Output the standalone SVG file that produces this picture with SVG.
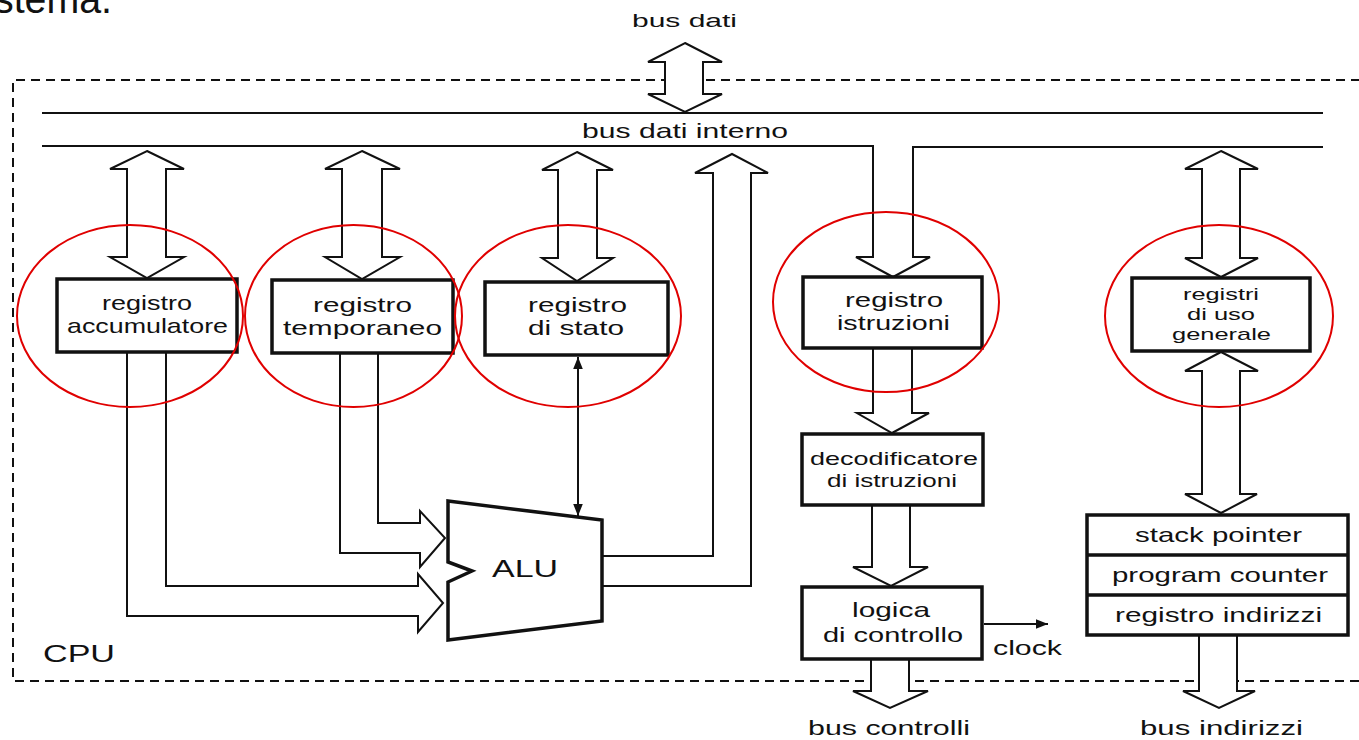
<svg xmlns="http://www.w3.org/2000/svg" width="1359" height="740" viewBox="0 0 1359 740">
<defs>
<style>
text{font-family:"Liberation Sans",Arial,sans-serif;fill:#111;}
.box{fill:#fff;stroke:#111;stroke-width:3.5;}
.arr{fill:#fff;stroke:#111;stroke-width:2;stroke-linejoin:miter;}
.ln{fill:none;stroke:#111;stroke-width:2;}
.cpu{fill:none;stroke:#111;stroke-width:2;stroke-dasharray:9 6;}
.ring{fill:none;stroke:#e00000;stroke-width:2;}
.lb{font-size:21px;}
</style>
<marker id="ah2" viewBox="0 0 10 10" refX="10" refY="5" markerWidth="12" markerHeight="12" markerUnits="userSpaceOnUse" orient="auto-start-reverse">
<path d="M0,1 L10,5 L0,9 Z" fill="#111"/>
</marker>
</defs>
<rect width="1359" height="740" fill="#fff"/>
<text x="-6" y="13" font-size="40" textLength="118" lengthAdjust="spacingAndGlyphs">stema.</text>

<g id="cpu">
<path class="cpu" d="M1375,80 L13,80 L13,681 L1375,681"/>
<text x="43" y="662" font-size="24" textLength="72" lengthAdjust="spacingAndGlyphs">CPU</text>
</g>

<g id="connectors">
<path class="ln" d="M42,113 L1323,113"/>
<path class="arr" d="M42,146 L873,146 L873,257 L856,257 L893,277 L930,257 L913,257 L913,147 L1323,147" fill="none"/>
<path class="arr" d="M685,43 L722,62 L703,62 L703,94 L722,94 L685,112 L648,94 L665,94 L665,62 L648,62 Z"/>
<path class="arr" d="M147,151 L184,169 L166,169 L166,257 L184,257 L147,278 L110,257 L127,257 L127,169 L110,169 Z"/>
<path class="arr" d="M362,151 L400,169 L382,169 L382,257 L400,257 L362,279 L325,257 L342,257 L342,169 L325,169 Z"/>
<path class="arr" d="M577,152 L613,170 L597,170 L597,258 L613,258 L577,281 L542,258 L558,258 L558,170 L542,170 Z"/>
<path class="arr" d="M1221,151 L1258,169 L1240,169 L1240,258 L1258,258 L1221,277 L1185,258 L1202,258 L1202,169 L1185,169 Z"/>
<path class="arr" d="M603,556 L713,556 L713,173 L695,173 L732,154 L768,173 L751,173 L751,586 L603,586"/>
<path class="arr" d="M378,353 L378,523 L420,523 L420,511 L445,538 L420,567 L420,553 L340,553 L340,353"/>
<path class="arr" d="M166,352 L166,586 L418,586 L418,574 L443,603 L418,632 L418,616 L127,616 L127,352"/>
<path class="ln" d="M578,357 L578,516" marker-start="url(#ah2)" marker-end="url(#ah2)"/>
<path class="arr" d="M873,349 L873,413 L857,413 L892,433 L929,413 L912,413 L912,349"/>
<path class="arr" d="M872,506 L872,567 L853,567 L891,586 L928,567 L910,567 L910,506"/>
<path class="arr" d="M871,660 L871,691 L853,691 L890,708 L928,691 L909,691 L909,660"/>
<path class="arr" d="M1221,352 L1258,371 L1240,371 L1240,494 L1257,494 L1221,513 L1185,494 L1202,494 L1202,371 L1185,371 Z"/>
<path class="arr" d="M1199,636 L1199,691 L1183,691 L1219,708 L1255,691 L1237,691 L1237,636"/>
<path class="ln" d="M984,624 L1048,624" marker-end="url(#ah2)"/>
<text x="993" y="655" font-size="20" textLength="69" lengthAdjust="spacingAndGlyphs">clock</text>
</g>

<g id="bus-labels">
<text x="632" y="27" font-size="18" textLength="105" lengthAdjust="spacingAndGlyphs">bus dati</text>
<text x="582" y="138" font-size="21" textLength="206" lengthAdjust="spacingAndGlyphs">bus dati interno</text>
<text x="808" y="735" font-size="21" textLength="162" lengthAdjust="spacingAndGlyphs">bus controlli</text>
<text x="1140" y="735" font-size="21" textLength="163" lengthAdjust="spacingAndGlyphs">bus indirizzi</text>
</g>

<g id="reg-accumulatore">
<rect class="box" x="57" y="279" width="180" height="73"/>
<text class="lb" x="102" y="310" textLength="90" lengthAdjust="spacingAndGlyphs">registro</text>
<text class="lb" x="67" y="333" textLength="161" lengthAdjust="spacingAndGlyphs">accumulatore</text>
</g>
<g id="reg-temporaneo">
<rect class="box" x="272" y="280" width="181" height="73"/>
<text class="lb" x="313" y="312" textLength="99" lengthAdjust="spacingAndGlyphs">registro</text>
<text class="lb" x="283" y="335" textLength="159" lengthAdjust="spacingAndGlyphs">temporaneo</text>
</g>
<g id="reg-stato">
<rect class="box" x="485" y="282" width="183" height="73"/>
<text class="lb" x="528" y="312" textLength="99" lengthAdjust="spacingAndGlyphs">registro</text>
<text class="lb" x="528" y="335" textLength="96" lengthAdjust="spacingAndGlyphs">di stato</text>
</g>
<g id="alu">
<path d="M448,501 L602,520 L602,621 L448,640 L448,582 L472,571 L448,562 Z" fill="#fff" stroke="#111" stroke-width="3.5" stroke-linejoin="miter"/>
<text x="492" y="577" font-size="23" textLength="66" lengthAdjust="spacingAndGlyphs">ALU</text>
</g>
<g id="reg-istruzioni">
<rect class="box" x="803" y="277" width="179" height="71"/>
<text class="lb" x="845" y="307" textLength="98" lengthAdjust="spacingAndGlyphs">registro</text>
<text class="lb" x="837" y="330" textLength="113" lengthAdjust="spacingAndGlyphs">istruzioni</text>
</g>
<g id="decodificatore">
<rect class="box" x="802" y="434" width="181" height="71"/>
<text x="810" y="465" font-size="18.5" textLength="168" lengthAdjust="spacingAndGlyphs">decodificatore</text>
<text x="827" y="487" font-size="18.5" textLength="130" lengthAdjust="spacingAndGlyphs">di istruzioni</text>
</g>
<g id="logica">
<rect class="box" x="802" y="587" width="180" height="72"/>
<text class="lb" x="852" y="617" textLength="78" lengthAdjust="spacingAndGlyphs">logica</text>
<text class="lb" x="823" y="642" textLength="140" lengthAdjust="spacingAndGlyphs">di controllo</text>
</g>
<g id="reg-generale">
<rect class="box" x="1132" y="278" width="178" height="73"/>
<text x="1183" y="300" font-size="17" textLength="76" lengthAdjust="spacingAndGlyphs">registri</text>
<text x="1187" y="320" font-size="17" textLength="68" lengthAdjust="spacingAndGlyphs">di uso</text>
<text x="1172" y="340" font-size="17" textLength="99" lengthAdjust="spacingAndGlyphs">generale</text>
</g>
<g id="reg-indirizzi">
<rect class="box" x="1087" y="515" width="261" height="120"/>
<path d="M1087,555 L1348,555 M1087,595 L1348,595" stroke="#111" stroke-width="3.5"/>
<text class="lb" x="1135" y="542" textLength="167" lengthAdjust="spacingAndGlyphs">stack pointer</text>
<text class="lb" x="1112" y="582" textLength="216" lengthAdjust="spacingAndGlyphs">program counter</text>
<text class="lb" x="1115" y="622" textLength="207" lengthAdjust="spacingAndGlyphs">registro indirizzi</text>
</g>

<g id="highlights">
<ellipse class="ring" cx="130" cy="316" rx="113" ry="91"/>
<ellipse class="ring" cx="353.5" cy="316" rx="108.5" ry="91"/>
<ellipse class="ring" cx="568" cy="316" rx="113" ry="91"/>
<ellipse class="ring" cx="886" cy="302" rx="113" ry="90"/>
<ellipse class="ring" cx="1219" cy="316" rx="114" ry="91"/>
</g>
</svg>
